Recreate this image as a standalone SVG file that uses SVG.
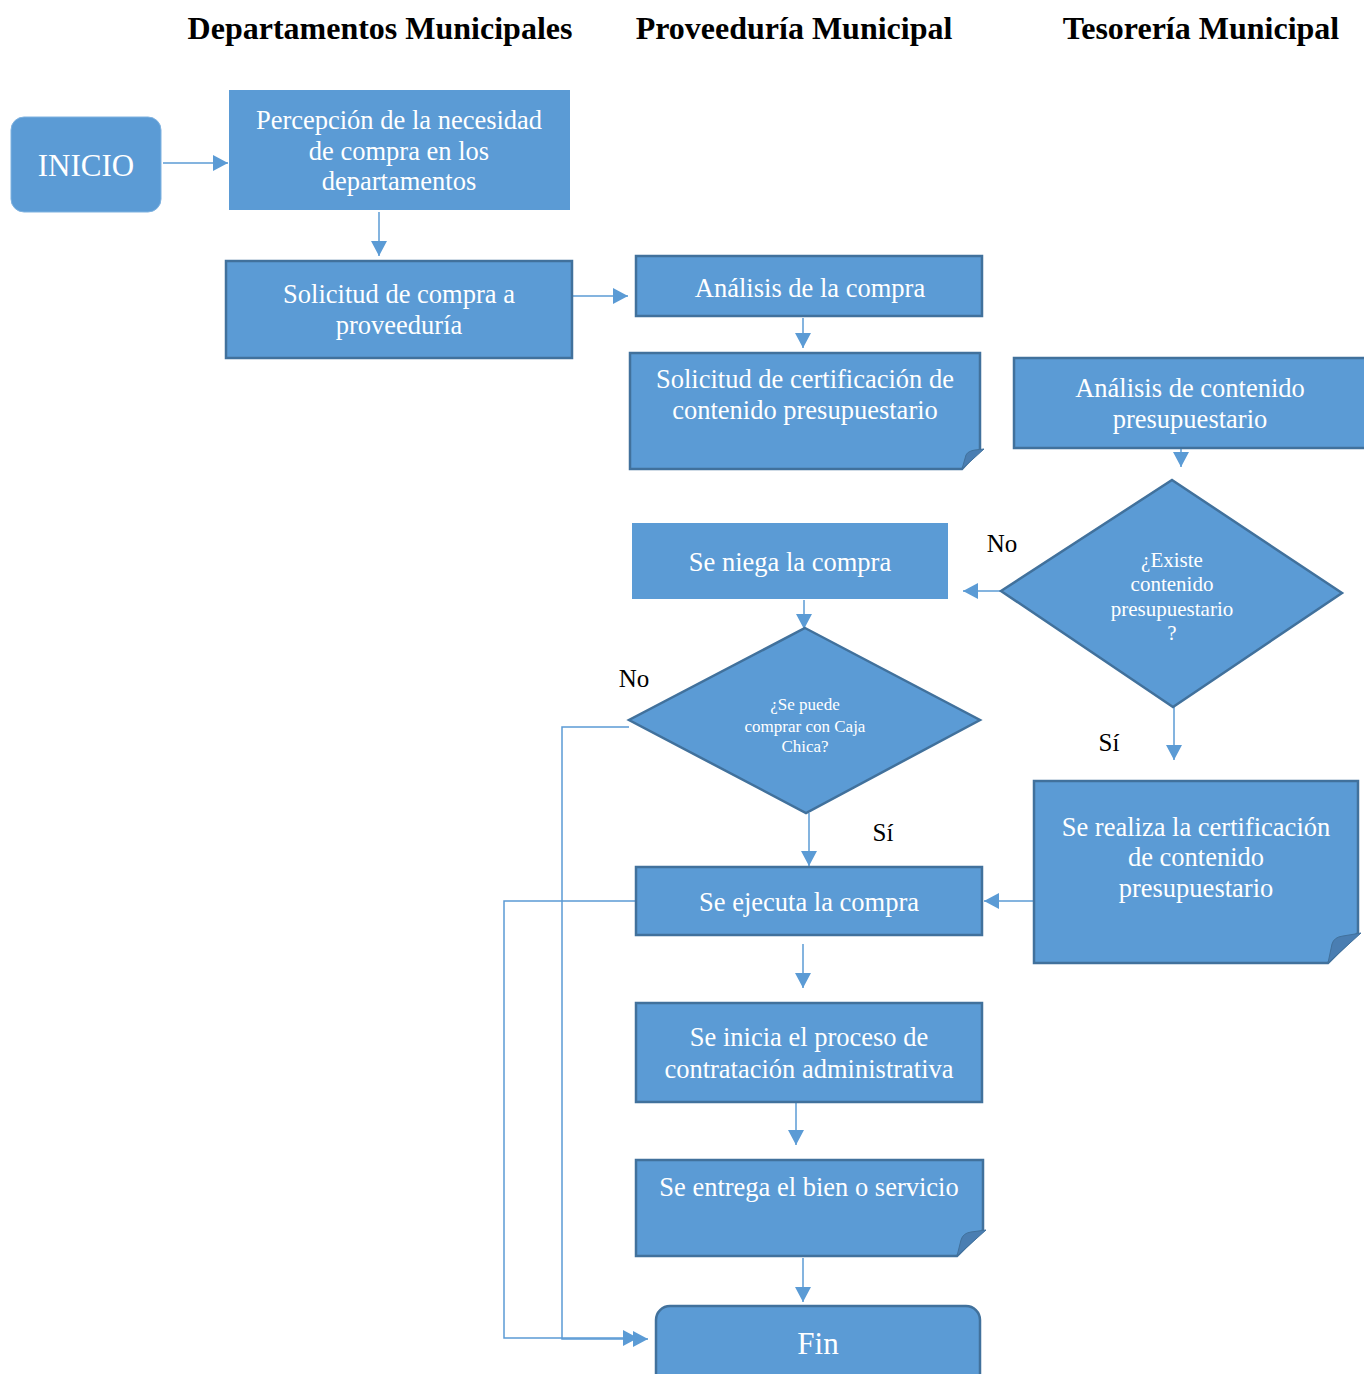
<svg xmlns="http://www.w3.org/2000/svg" width="1364" height="1374" viewBox="0 0 1364 1374">
<style>
.hdr{font-family:"Liberation Serif","Times New Roman",serif;font-weight:bold;font-size:32px;fill:#000;text-anchor:middle}
.box{fill:#5B9BD5}
.bd{stroke:#41719C;stroke-width:2.5}
.bl{stroke:#6FA8DC;stroke-width:1}
.t{font-family:"Liberation Serif","Times New Roman",serif;font-size:26.5px;fill:#fff;text-anchor:middle}
.lbl{font-family:"Liberation Serif","Times New Roman",serif;font-size:25px;fill:#000;text-anchor:middle}
.fold{fill:#4A7EB2;stroke:#41719C;stroke-width:1}
.c{fill:none;stroke:#5B9BD5;stroke-width:1.5}
</style>
<defs>
<marker id="ah" markerUnits="userSpaceOnUse" markerWidth="16" markerHeight="16" refX="15" refY="8" orient="auto">
<path d="M0,0 L15,8 L0,16 Z" fill="#5B9BD5"/>
</marker>
</defs>
<rect width="1364" height="1374" fill="#fff"/>

<g id="headers">
<text class="hdr" x="380" y="39">Departamentos Municipales</text>
<text class="hdr" x="794" y="39">Proveeduría Municipal</text>
<text class="hdr" x="1201" y="39">Tesorería Municipal</text>
</g>

<g id="connectors">
<line class="c" x1="163" y1="163" x2="228" y2="163" marker-end="url(#ah)"/>
<line class="c" x1="379" y1="212" x2="379" y2="256" marker-end="url(#ah)"/>
<line class="c" x1="573" y1="296" x2="628" y2="296" marker-end="url(#ah)"/>
<line class="c" x1="803" y1="318" x2="803" y2="348" marker-end="url(#ah)"/>
<line class="c" x1="1181" y1="449" x2="1181" y2="467" marker-end="url(#ah)"/>
<line class="c" x1="1001" y1="591" x2="963" y2="591" marker-end="url(#ah)"/>
<line class="c" x1="804" y1="600" x2="804" y2="629" marker-end="url(#ah)"/>
<line class="c" x1="1174" y1="707" x2="1174" y2="760" marker-end="url(#ah)"/>
<line class="c" x1="1034" y1="901" x2="984" y2="901" marker-end="url(#ah)"/>
<line class="c" x1="809" y1="813" x2="809" y2="866" marker-end="url(#ah)"/>
<polyline class="c" points="629,727 562,727 562,1339 648,1339" marker-end="url(#ah)"/>
<polyline class="c" points="636,901 504,901 504,1338 638,1338" marker-end="url(#ah)"/>
<line class="c" x1="803" y1="944" x2="803" y2="988" marker-end="url(#ah)"/>
<line class="c" x1="796" y1="1103" x2="796" y2="1145" marker-end="url(#ah)"/>
<line class="c" x1="803" y1="1258" x2="803" y2="1302" marker-end="url(#ah)"/>
</g>

<g id="labels">
<text class="lbl" x="1002" y="552">No</text>
<text class="lbl" x="634" y="687">No</text>
<text class="lbl" x="1109" y="751">Sí</text>
<text class="lbl" x="883" y="841">Sí</text>
</g>

<g id="inicio">
<rect class="box" x="11" y="117" width="150" height="95" rx="13" stroke="#7FB2E0" stroke-width="1"/>
<text class="t" x="86" y="176" style="font-size:31px">INICIO</text>
</g>

<g id="percepcion">
<rect class="box" x="229" y="90" width="341" height="120"/>
<text class="t" x="399" y="129">Percepción de la necesidad</text>
<text class="t" x="399" y="160">de compra en los</text>
<text class="t" x="399" y="190">departamentos</text>
</g>

<g id="solicitud-compra">
<rect class="box bd" x="226" y="261" width="346" height="97"/>
<text class="t" x="399" y="303">Solicitud de compra a</text>
<text class="t" x="399" y="334">proveeduría</text>
</g>

<g id="analisis-compra">
<rect class="box bd" x="636" y="256" width="346" height="60"/>
<text class="t" x="810" y="297">Análisis de la compra</text>
</g>

<g id="solicitud-certificacion">
<path class="box bd" d="M630,353 L980,353 L980,449 L962,469 L630,469 Z"/>
<path class="fold" d="M984,449 L962,469 L966,455 Q968,451 975,450 Z"/>
<text class="t" x="805" y="388">Solicitud de certificación de</text>
<text class="t" x="805" y="419">contenido presupuestario</text>
</g>

<g id="analisis-contenido">
<rect class="box bd" x="1014" y="358" width="360" height="90"/>
<text class="t" x="1190" y="397">Análisis de contenido</text>
<text class="t" x="1190" y="428">presupuestario</text>
</g>

<g id="existe-contenido">
<polygon class="box bd" points="1172,480 1342,593 1173,707 1001,591"/>
<g class="t" style="font-size:21px">
<text x="1172" y="567">¿Existe</text>
<text x="1172" y="591">contenido</text>
<text x="1172" y="616">presupuestario</text>
<text x="1172" y="640">?</text>
</g>
</g>

<g id="se-niega">
<rect class="box" x="632" y="523" width="316" height="76"/>
<text class="t" x="790" y="571">Se niega la compra</text>
</g>

<g id="caja-chica">
<polygon class="box bd" points="805,628 980,720 806,813 629,720"/>
<g class="t" style="font-size:17px">
<text x="805" y="710">¿Se puede</text>
<text x="805" y="732">comprar con Caja</text>
<text x="805" y="752">Chica?</text>
</g>
</g>

<g id="se-ejecuta">
<rect class="box bd" x="636" y="867" width="346" height="68"/>
<text class="t" x="809" y="911">Se ejecuta la compra</text>
</g>

<g id="se-realiza">
<path class="box bd" d="M1034,781 L1358,781 L1358,933 L1328,963 L1034,963 Z"/>
<path class="fold" d="M1361,933 L1328,963 L1332,944 Q1334,937 1343,936 Z"/>
<text class="t" x="1196" y="836">Se realiza la certificación</text>
<text class="t" x="1196" y="866">de contenido</text>
<text class="t" x="1196" y="897">presupuestario</text>
</g>

<g id="se-inicia">
<rect class="box bd" x="636" y="1003" width="346" height="99"/>
<text class="t" x="809" y="1046">Se inicia el proceso de</text>
<text class="t" x="809" y="1078">contratación administrativa</text>
</g>

<g id="se-entrega">
<path class="box bd" d="M636,1160 L983,1160 L983,1230 L957,1256 L636,1256 Z"/>
<path class="fold" d="M986,1230 L957,1256 L961,1240 Q963,1233 971,1232 Z"/>
<text class="t" x="809" y="1196">Se entrega el bien o servicio</text>
</g>

<g id="fin">
<rect class="box bd" x="656" y="1306" width="324" height="90" rx="14"/>
<text class="t" x="818" y="1354" style="font-size:31px">Fin</text>
</g>
</svg>
